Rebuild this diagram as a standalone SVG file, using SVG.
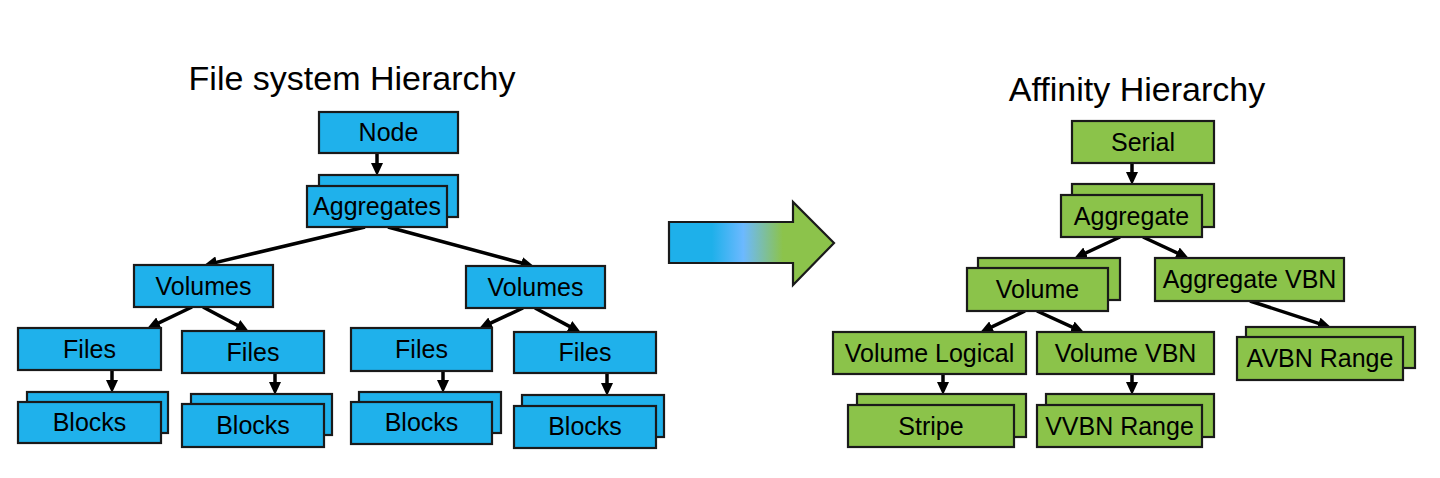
<svg xmlns="http://www.w3.org/2000/svg" width="1440" height="478" viewBox="0 0 1440 478">
<style>
.b{fill:#1FB1EB;stroke:#1a1a1a;stroke-width:2.2}
.g{fill:#8BC34A;stroke:#1a1a1a;stroke-width:2.2}
.t{font-family:"Liberation Sans",Arial,sans-serif;font-size:25px;fill:#000;text-anchor:middle}
.h{font-family:"Liberation Sans",Arial,sans-serif;font-size:34px;fill:#000;text-anchor:middle}
.c{stroke:#000;stroke-width:3.5;fill:none;marker-end:url(#ah)}
</style>
<defs>
<marker id="ah" viewBox="0 0 13 12" refX="8" refY="6" markerWidth="13" markerHeight="12" markerUnits="userSpaceOnUse" orient="auto">
<path d="M0,0 L13,6 L0,12 z" fill="#000"/>
</marker>
<linearGradient id="grad" gradientUnits="userSpaceOnUse" x1="669" y1="0" x2="834" y2="0">
<stop offset="0" stop-color="#1EB0EA"/>
<stop offset="0.26" stop-color="#1EB0EA"/>
<stop offset="0.45" stop-color="#6CB9FF"/>
<stop offset="0.69" stop-color="#8CC34B"/>
<stop offset="1" stop-color="#8CC34B"/>
</linearGradient>
</defs>
<rect width="1440" height="478" fill="#fff"/>

<text class="h" x="352" y="90">File system Hierarchy</text>
<text class="h" x="1137" y="101">Affinity Hierarchy</text>

<g id="connectors">
<path class="c" d="M377,153 L377,171"/>
<path class="c" d="M365,227 L208.9,264.1"/>
<path class="c" d="M388,227 L529.1,265"/>
<path class="c" d="M192,307 L151.6,326.3"/>
<path class="c" d="M203,307 L244.5,329.1"/>
<path class="c" d="M112,370 L112,388"/>
<path class="c" d="M275,373 L275,390"/>
<path class="c" d="M523,308 L483.6,326.3"/>
<path class="c" d="M535,308 L576.5,330.1"/>
<path class="c" d="M443,371 L443,388"/>
<path class="c" d="M607,373 L607,391"/>
<path class="c" d="M1132,163 L1132,180"/>
<path class="c" d="M1120,237 L1078.6,256.3"/>
<path class="c" d="M1143,237 L1184.4,256.3"/>
<path class="c" d="M1025,311 L984.6,330.3"/>
<path class="c" d="M1037,311 L1079.4,330.3"/>
<path class="c" d="M943,374 L943,390"/>
<path class="c" d="M1132,374 L1132,390"/>
<path class="c" d="M1250,301 L1326.2,325.8"/>
</g>

<g id="transform-arrow">
<path d="M669,222 L793,222 L793,202 L834,243 L793,285 L793,263 L669,263 z" fill="url(#grad)" stroke="#1a1a1a" stroke-width="2.2"/>
</g>

<g id="node-node"><rect class="b" x="319" y="112" width="139" height="41"/><text class="t" x="388.5" y="141">Node</text></g>
<g id="node-aggregates"><rect class="b" x="319" y="175" width="139" height="42"/><rect class="b" x="307" y="186" width="140" height="41"/><text class="t" x="377" y="215">Aggregates</text></g>
<g id="node-volumes-1"><rect class="b" x="134" y="265" width="139" height="42"/><text class="t" x="203.5" y="295">Volumes</text></g>
<g id="node-volumes-2"><rect class="b" x="466" y="266" width="139" height="42"/><text class="t" x="535.5" y="296">Volumes</text></g>
<g id="node-files-1"><rect class="b" x="18" y="328" width="143" height="42"/><text class="t" x="89.5" y="358">Files</text></g>
<g id="node-files-2"><rect class="b" x="182" y="331" width="142" height="42"/><text class="t" x="253" y="361">Files</text></g>
<g id="node-files-3"><rect class="b" x="351" y="328" width="141" height="43"/><text class="t" x="421.5" y="358">Files</text></g>
<g id="node-files-4"><rect class="b" x="514" y="332" width="142" height="41"/><text class="t" x="585" y="361">Files</text></g>
<g id="node-blocks-1"><rect class="b" x="27" y="392" width="141" height="41"/><rect class="b" x="18" y="402" width="143" height="41"/><text class="t" x="89.5" y="431">Blocks</text></g>
<g id="node-blocks-2"><rect class="b" x="191" y="394" width="141" height="41"/><rect class="b" x="182" y="404" width="142" height="43"/><text class="t" x="253" y="434">Blocks</text></g>
<g id="node-blocks-3"><rect class="b" x="359" y="392" width="142" height="41"/><rect class="b" x="351" y="402" width="141" height="42"/><text class="t" x="421.5" y="431">Blocks</text></g>
<g id="node-blocks-4"><rect class="b" x="522" y="395" width="142" height="42"/><rect class="b" x="514" y="406" width="142" height="42"/><text class="t" x="585" y="435">Blocks</text></g>

<g id="node-serial"><rect class="g" x="1072" y="121" width="142" height="42"/><text class="t" x="1143" y="151">Serial</text></g>
<g id="node-aggregate"><rect class="g" x="1072" y="184" width="142" height="43"/><rect class="g" x="1061" y="195" width="141" height="42"/><text class="t" x="1131.5" y="225">Aggregate</text></g>
<g id="node-volume"><rect class="g" x="978" y="258" width="142" height="42"/><rect class="g" x="967" y="268" width="141" height="43"/><text class="t" x="1037.5" y="298">Volume</text></g>
<g id="node-aggregate-vbn"><rect class="g" x="1155" y="258" width="189" height="43"/><text class="t" x="1249.5" y="288">Aggregate VBN</text></g>
<g id="node-volume-logical"><rect class="g" x="833" y="332" width="193" height="42"/><text class="t" x="929.5" y="362">Volume Logical</text></g>
<g id="node-volume-vbn"><rect class="g" x="1037" y="332" width="177" height="42"/><text class="t" x="1125.5" y="362">Volume VBN</text></g>
<g id="node-stripe"><rect class="g" x="857" y="394" width="169" height="43"/><rect class="g" x="848" y="405" width="166" height="42"/><text class="t" x="931" y="435">Stripe</text></g>
<g id="node-vvbn-range"><rect class="g" x="1046" y="394" width="168" height="43"/><rect class="g" x="1037" y="405" width="165" height="42"/><text class="t" x="1119.5" y="435">VVBN Range</text></g>
<g id="node-avbn-range"><rect class="g" x="1246" y="327" width="169" height="41"/><rect class="g" x="1237" y="337" width="166" height="43"/><text class="t" x="1320" y="367">AVBN Range</text></g>
</svg>
